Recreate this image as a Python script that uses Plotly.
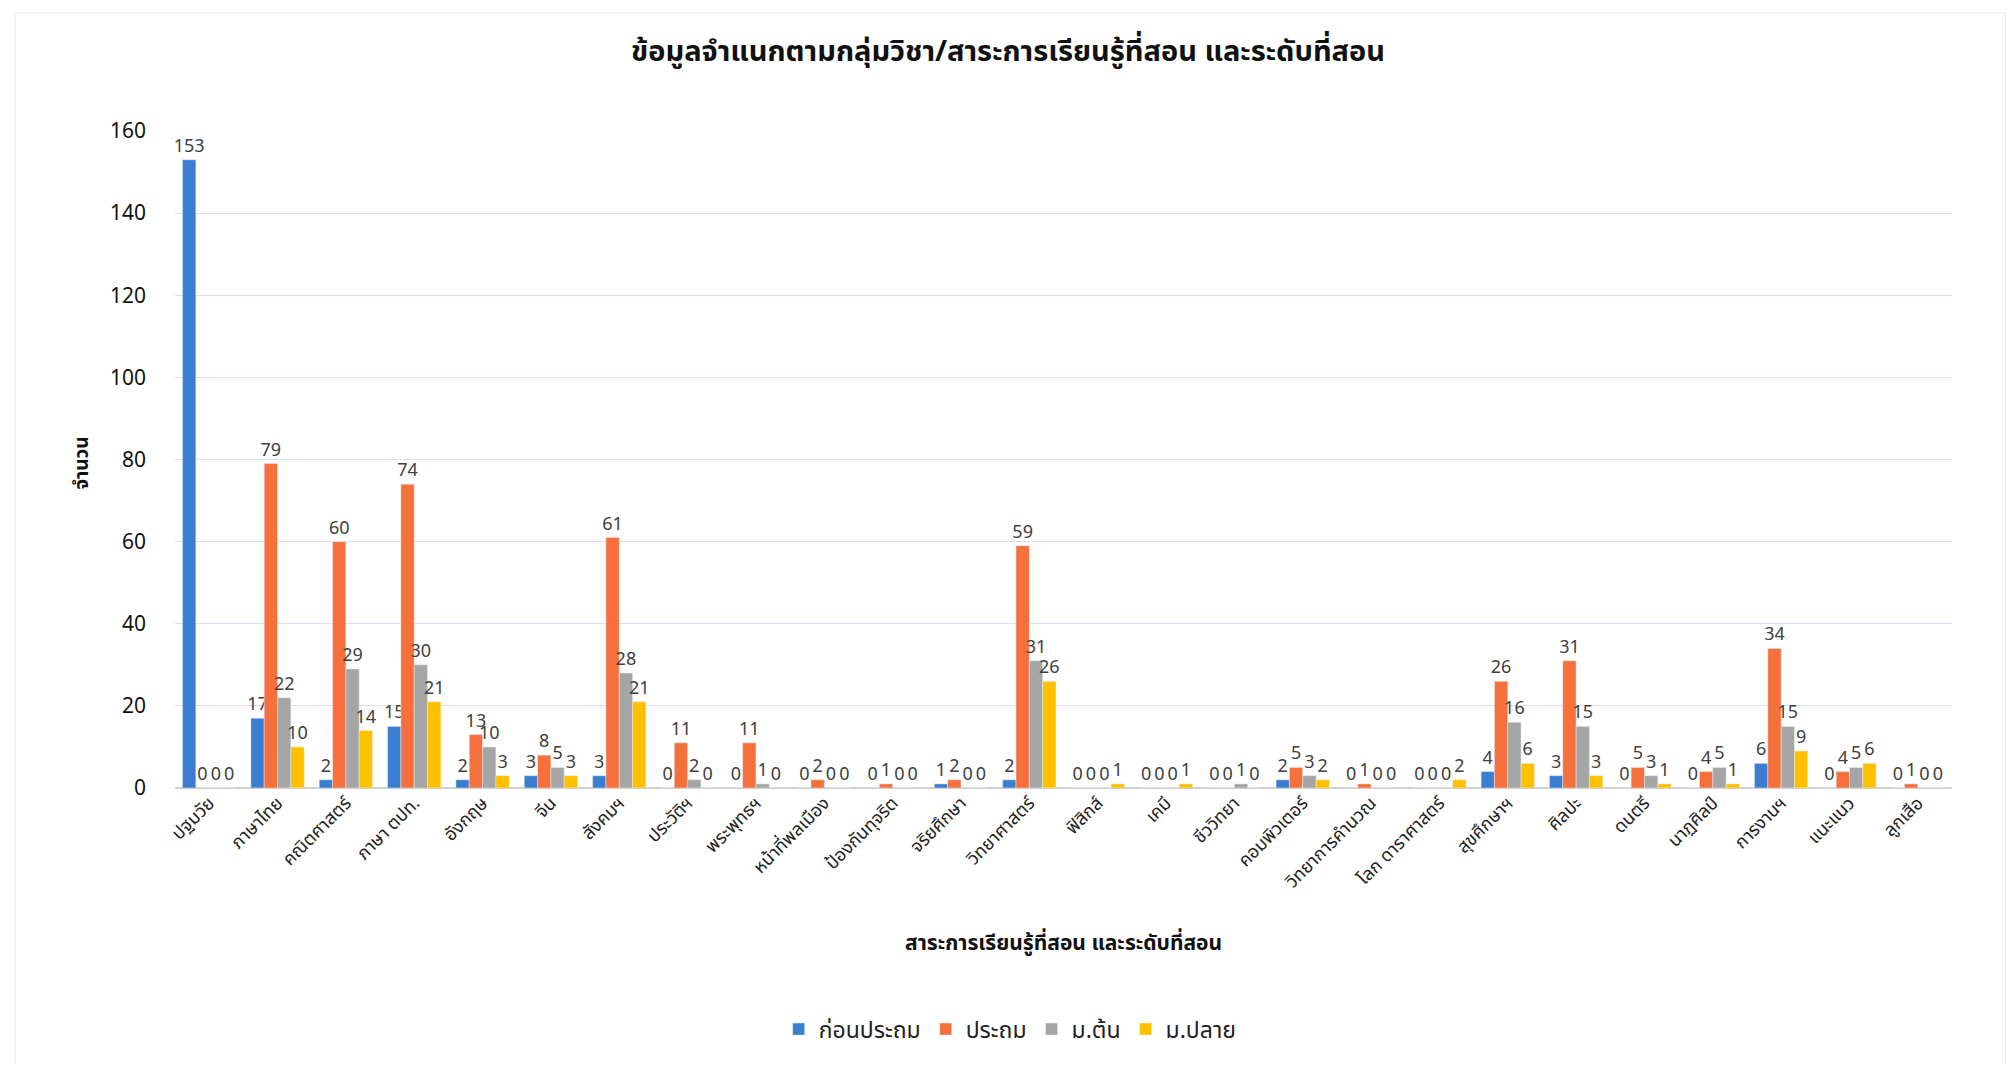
import plotly.graph_objects as go

# ── Data ──────────────────────────────────────────────────────────────────

subjects = [
    "ปฐมวัย", "ภาษาไทย", "คณิตศาสตร์", "ภาษา ตปท.", "อังกฤษ", "จีน",
    "สังคมฯ", "ประวัติฯ", "พระพุทธฯ", "หน้าที่พลเมือง", "ป้องกันทุจริต",
    "จริยศึกษา", "วิทยาศาสตร์", "ฟิสิกส์", "เคมี", "ชีววิทยา", "คอมพิวเตอร์",
    "วิทยาการคำนวณ", "โลก ดาราศาสตร์", "สุขศึกษาฯ", "ศิลปะ", "ดนตรี",
    "นาฏศิลป์", "การงานฯ", "แนะแนว", "ลูกเสือ",
]

pre_primary = [153, 17, 2, 15, 2, 3, 3, 0, 0, 0, 0, 1, 2, 0, 0, 0, 2, 0, 0, 4, 3, 0, 0, 6, 0, 0]
primary = [0, 79, 60, 74, 13, 8, 61, 11, 11, 2, 1, 2, 59, 0, 0, 0, 5, 1, 0, 26, 31, 5, 4, 34, 4, 1]
lower_sec = [0, 22, 29, 30, 10, 5, 28, 2, 1, 0, 0, 0, 31, 0, 0, 1, 3, 0, 0, 16, 15, 3, 5, 15, 5, 0]
upper_sec = [0, 10, 14, 21, 3, 3, 21, 0, 0, 0, 0, 0, 26, 1, 1, 0, 2, 0, 2, 6, 3, 1, 1, 9, 6, 0]

series = [
    ("ก่อนประถม", pre_primary, "#3B7DD0"),
    ("ประถม", primary, "#F5703A"),
    ("ม.ต้น", lower_sec, "#A5A5A5"),
    ("ม.ปลาย", upper_sec, "#FFC000"),
]

FONT = "Noto Sans, Noto Sans Thai, Tahoma, sans-serif"

fig = go.Figure()
for name, values, color in series:
    fig.add_trace(
        go.Bar(
            x=subjects,
            y=values,
            name=name,
            marker=dict(color=color),
            text=values,
            textposition="outside",
            constraintext="none",
            textfont=dict(size=18, color="#404040"),
            cliponaxis=False,
        )
    )

# page body has an 8px margin, so the figure is sized to fit inside it
fig.update_layout(
    barmode="group",
    bargap=0.22,
    bargroupgap=0.0,
    width=2000,
    height=1056,
    paper_bgcolor="white",
    plot_bgcolor="white",
    font=dict(family=FONT, color="#222222"),
    margin=dict(l=167, r=56, t=123, b=276),
    title=dict(
        text="<b>ข้อมูลจำแนกตามกลุ่มวิชา/สาระการเรียนรู้ที่สอน และระดับที่สอน</b>",
        x=0.5,
        xanchor="center",
        y=0.959,
        yanchor="middle",
        font=dict(size=29, color="#111111"),
    ),
    yaxis=dict(
        range=[0, 160],
        dtick=20,
        showgrid=True,
        gridcolor="#DCDCF0",
        gridwidth=1,
        zeroline=True,
        zerolinecolor="#D0D0D0",
        tickfont=dict(size=21, color="#111111"),
        ticks="",
        ticklabelstandoff=28,
    ),
    xaxis=dict(
        tickangle=-45,
        tickfont=dict(size=18, color="#222222"),
        showline=False,
        ticks="",
    ),
    legend=dict(
        orientation="h",
        x=0.47,
        xanchor="center",
        y=-0.367,
        yanchor="middle",
        font=dict(size=23, color="#222222"),
        itemwidth=30,
        tracegroupgap=10,
    ),
    annotations=[
        dict(
            text="<b>สาระการเรียนรู้ที่สอน และระดับที่สอน</b>",
            xref="paper", yref="paper",
            x=0.5, y=-0.234,
            xanchor="center", yanchor="middle",
            showarrow=False,
            font=dict(size=21, color="#111111"),
        ),
        dict(
            text="<b>จำนวน</b>",
            xref="paper", yref="paper",
            x=-0.053, y=0.495,
            xanchor="center", yanchor="middle",
            textangle=-90,
            showarrow=False,
            font=dict(size=19, color="#111111"),
        ),
    ],
    shapes=[
        dict(
            type="rect", xref="paper", yref="paper",
            x0=-0.09, x1=1.03, y0=-0.45, y1=1.18,
            line=dict(color="#E6E6E6", width=1),
        )
    ],
)

fig.write_html("out.html")
